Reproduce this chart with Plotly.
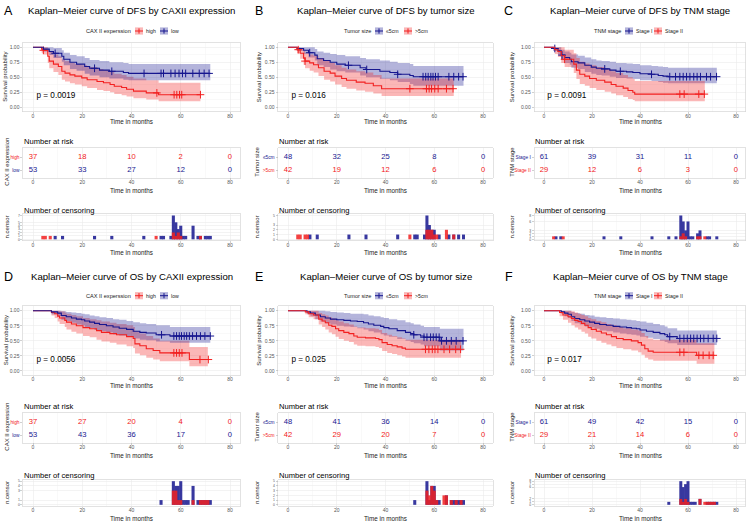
import plotly.graph_objects as go
from bisect import bisect_right

FONT = "Liberation Sans, Arial, sans-serif"
W, H = 750, 525
RED = "#F22020"
BLUE = "#16168F"
RED_F = "rgba(242,32,32,0.32)"
BLUE_F = "rgba(22,22,143,0.32)"

# ======================= DATA =======================
# ---- Panel A : DFS by CAXII expression ----
A_high_t = [0, 3.5, 4.2, 6, 6.6, 8.3, 10.3, 11.7, 13, 15, 17, 19.8, 22, 26, 28.6, 31.3, 33, 36, 38, 40.8, 46, 51, 68]
A_high_s = [1, 0.97, 0.95, 0.85, 0.77, 0.72, 0.68, 0.60, 0.57, 0.54, 0.52, 0.49, 0.46, 0.43, 0.41, 0.38, 0.35, 0.33, 0.30, 0.27, 0.24, 0.21, 0.21]
A_high_hi = [1, 1, 1, 0.96, 0.92, 0.88, 0.85, 0.80, 0.77, 0.74, 0.72, 0.70, 0.67, 0.64, 0.62, 0.59, 0.56, 0.54, 0.51, 0.48, 0.45, 0.41, 0.41]
A_high_lo = [1, 0.91, 0.88, 0.74, 0.65, 0.59, 0.54, 0.46, 0.43, 0.40, 0.38, 0.35, 0.32, 0.29, 0.27, 0.25, 0.22, 0.20, 0.18, 0.15, 0.13, 0.10, 0.10]
A_high_cens = [4.2, 50.3, 57.3, 58.4, 59.5, 60.4, 68]
A_low_t = [0, 4.2, 6.6, 8.3, 11.7, 12.5, 15, 17.7, 21, 23, 27, 31, 36.7, 38.8, 72]
A_low_s = [1, 0.97, 0.93, 0.90, 0.85, 0.80, 0.75, 0.72, 0.68, 0.65, 0.62, 0.60, 0.58, 0.565, 0.565]
A_low_hi = [1, 1, 1, 0.99, 0.95, 0.91, 0.87, 0.85, 0.82, 0.79, 0.77, 0.75, 0.74, 0.72, 0.72]
A_low_lo = [1, 0.93, 0.87, 0.82, 0.76, 0.70, 0.64, 0.61, 0.56, 0.53, 0.50, 0.48, 0.46, 0.45, 0.45]
A_low_cens = [9, 25, 32, 45.1, 52, 53, 56, 57.7, 59.3, 60.7, 62, 64.9, 67.5, 69.5, 71.5]
A_risk_high = [37, 18, 10, 2, 0]
A_risk_low = [53, 33, 27, 12, 0]
A_nc_high_t = [4, 5, 7, 50, 57, 58, 59, 60, 68]
A_nc_high_n = [1, 1, 1, 1, 2, 1, 2, 1, 1]
A_nc_low_t = [9, 12, 25, 32, 45, 52, 53, 56, 57, 58, 59, 60, 61, 62, 65, 67, 68, 70, 71, 72]
A_nc_low_n = [1, 1, 1, 1, 1, 1, 1, 1, 7, 5, 3, 4, 1, 1, 4, 1, 1, 1, 1, 1]

# ---- Panel B : DFS by tumor size ----
B_s5_t = [0, 3.7, 6.4, 8.4, 11, 12, 14.6, 17.3, 20, 23.5, 29.6, 32, 37.7, 41.8, 45, 50, 51.4, 72]
B_s5_s = [1, 0.98, 0.95, 0.91, 0.87, 0.81, 0.78, 0.75, 0.72, 0.70, 0.66, 0.63, 0.60, 0.58, 0.55, 0.53, 0.51, 0.51]
B_s5_hi = [1, 1, 1, 1, 0.97, 0.93, 0.91, 0.89, 0.87, 0.85, 0.82, 0.80, 0.78, 0.76, 0.74, 0.72, 0.69, 0.69]
B_s5_lo = [1, 0.94, 0.89, 0.83, 0.78, 0.70, 0.67, 0.63, 0.60, 0.58, 0.53, 0.50, 0.47, 0.45, 0.42, 0.39, 0.36, 0.36]
B_s5_cens = [8.9, 24.8, 32.3, 45, 55.4, 56.5, 57.5, 58.6, 59.5, 60.5, 61.6, 66, 68, 70, 71.8]
B_l5_t = [0, 3.7, 5, 6.4, 7, 8.9, 10.5, 12.5, 14.8, 17.3, 19.3, 22, 24, 28, 31.6, 35, 38.4, 68]
B_l5_s = [1, 0.96, 0.90, 0.82, 0.77, 0.74, 0.71, 0.66, 0.60, 0.57, 0.52, 0.48, 0.45, 0.42, 0.40, 0.36, 0.31, 0.31]
B_l5_hi = [1, 1, 0.99, 0.94, 0.90, 0.88, 0.86, 0.82, 0.77, 0.74, 0.70, 0.66, 0.63, 0.60, 0.58, 0.54, 0.48, 0.48]
B_l5_lo = [1, 0.90, 0.81, 0.71, 0.65, 0.61, 0.58, 0.52, 0.46, 0.43, 0.38, 0.34, 0.31, 0.28, 0.26, 0.23, 0.19, 0.19]
B_l5_cens = [4.2, 7, 50, 56.8, 57.9, 58.9, 60.2, 61.6, 65, 67.7]
B_risk_s5 = [48, 32, 25, 8, 0]
B_risk_l5 = [42, 19, 12, 6, 0]
B_nc_s5_t = [9, 12, 25, 32, 45, 52, 53, 56, 57, 58, 59, 60, 62, 66, 68, 70, 72]
B_nc_s5_n = [1, 1, 1, 1, 1, 1, 1, 1, 5, 3, 2, 2, 1, 1, 1, 1, 1]
B_nc_l5_t = [4, 5, 7, 8, 50, 57, 58, 59, 60, 61, 65, 68]
B_nc_l5_n = [1, 1, 1, 1, 1, 2, 2, 2, 1, 1, 2, 1]

# ---- Panel C : DFS by TNM stage ----
C_s1_t = [0, 3.8, 5.8, 7.2, 8.6, 10.7, 11.4, 14.2, 17, 19.7, 21.8, 24, 27.4, 30, 34.4, 37, 40, 44.8, 47.6, 49.6, 51.7, 72]
C_s1_s = [1, 0.98, 0.94, 0.87, 0.83, 0.80, 0.76, 0.74, 0.70, 0.67, 0.65, 0.64, 0.62, 0.60, 0.59, 0.58, 0.56, 0.55, 0.53, 0.52, 0.51, 0.51]
C_s1_hi = [1, 1, 1, 0.96, 0.93, 0.91, 0.88, 0.86, 0.83, 0.80, 0.78, 0.77, 0.76, 0.74, 0.73, 0.72, 0.70, 0.69, 0.68, 0.67, 0.66, 0.66]
C_s1_lo = [1, 0.94, 0.88, 0.79, 0.74, 0.71, 0.66, 0.64, 0.59, 0.56, 0.54, 0.53, 0.51, 0.49, 0.48, 0.47, 0.45, 0.44, 0.42, 0.41, 0.40, 0.40]
C_s1_cens = [4.5, 7.5, 25.3, 31.8, 44.8, 52.4, 54.8, 56.6, 58, 59.4, 60.8, 62.4, 63.8, 65.2, 67.7, 69.4, 71.9]
C_s2_t = [0, 4.5, 5.8, 7.2, 8.6, 12.4, 13.5, 14.9, 17, 19, 21.8, 25.3, 28, 30, 33, 35, 37, 37.8, 67]
C_s2_s = [1, 0.96, 0.93, 0.86, 0.80, 0.72, 0.62, 0.55, 0.52, 0.48, 0.45, 0.42, 0.38, 0.35, 0.32, 0.28, 0.25, 0.22, 0.22]
C_s2_hi = [1, 1, 1, 1, 0.96, 0.90, 0.82, 0.76, 0.73, 0.70, 0.67, 0.64, 0.60, 0.57, 0.54, 0.50, 0.47, 0.44, 0.44]
C_s2_lo = [1, 0.89, 0.84, 0.74, 0.67, 0.57, 0.47, 0.39, 0.36, 0.32, 0.29, 0.26, 0.23, 0.20, 0.17, 0.14, 0.12, 0.10, 0.10]
C_s2_cens = [8.6, 56.6, 58.4, 64.5, 66.8]
C_risk_s1 = [61, 39, 31, 11, 0]
C_risk_s2 = [29, 12, 6, 3, 0]
C_nc_s1_t = [5, 7, 25, 32, 45, 52, 55, 57, 58, 59, 60, 61, 62, 64, 65, 68, 69, 72]
C_nc_s1_n = [1, 1, 1, 1, 1, 1, 1, 8, 6, 3, 6, 1, 1, 2, 3, 1, 1, 1]
C_nc_s2_t = [4, 8, 57, 58, 59, 64, 65, 67]
C_nc_s2_n = [1, 1, 1, 2, 1, 1, 1, 1]

# ---- Panel D : OS by CAXII expression ----
D_high_t = [0, 7.5, 8.8, 10, 10.8, 12.9, 13.6, 15.6, 17.6, 20.3, 23, 25.8, 27.8, 31.2, 33.9, 38, 40.7, 41.4, 43.4, 46, 48.8, 51.5, 63.5, 71]
D_high_s = [1, 0.97, 0.95, 0.91, 0.88, 0.84, 0.81, 0.78, 0.75, 0.72, 0.70, 0.67, 0.64, 0.62, 0.60, 0.57, 0.54, 0.45, 0.42, 0.37, 0.34, 0.30, 0.19, 0.19]
D_high_hi = [1, 1, 1, 1, 0.99, 0.97, 0.95, 0.93, 0.91, 0.88, 0.86, 0.84, 0.82, 0.80, 0.78, 0.76, 0.73, 0.66, 0.62, 0.58, 0.54, 0.50, 0.40, 0.40]
D_high_lo = [1, 0.92, 0.88, 0.82, 0.78, 0.73, 0.69, 0.65, 0.62, 0.58, 0.56, 0.52, 0.49, 0.47, 0.44, 0.41, 0.38, 0.29, 0.26, 0.22, 0.19, 0.16, 0.08, 0.08]
D_high_cens = [57.2, 58.3, 59.4, 60.5, 67.8, 71.2]
D_low_t = [0, 7.5, 10, 11.5, 13.5, 15.6, 17.6, 19.7, 21, 23, 25, 27, 29.8, 32.5, 35, 38, 40.7, 43.4, 46, 50, 55.6, 72]
D_low_s = [1, 0.98, 0.96, 0.92, 0.90, 0.88, 0.86, 0.85, 0.83, 0.81, 0.79, 0.77, 0.75, 0.73, 0.71, 0.69, 0.66, 0.64, 0.63, 0.60, 0.58, 0.58]
D_low_hi = [1, 1, 1, 0.99, 0.98, 0.97, 0.96, 0.95, 0.94, 0.92, 0.91, 0.89, 0.88, 0.86, 0.85, 0.83, 0.81, 0.79, 0.78, 0.76, 0.73, 0.73]
D_low_lo = [1, 0.94, 0.91, 0.85, 0.83, 0.80, 0.77, 0.76, 0.73, 0.71, 0.68, 0.66, 0.64, 0.61, 0.59, 0.57, 0.54, 0.52, 0.51, 0.49, 0.47, 0.47]
D_low_cens = [52.2, 57.2, 58.3, 59.4, 60.3, 61.4, 62.4, 63.5, 64.8, 66.4, 68, 69.8, 72]
D_risk_high = [37, 27, 20, 4, 0]
D_risk_low = [53, 43, 36, 17, 0]
D_nc_high_t = [57, 58, 59, 60, 65, 68, 69, 70, 71]
D_nc_high_n = [3, 3, 1, 1, 1, 1, 1, 1, 1]
D_nc_low_t = [52, 57, 58, 59, 60, 61, 62, 63, 65, 67, 68, 69, 70, 71, 72]
D_nc_low_n = [1, 5, 4, 4, 5, 1, 1, 1, 4, 1, 1, 1, 1, 1, 1]

# ---- Panel E : OS by tumor size ----
E_s5_t = [0, 7.8, 9.2, 11.2, 13.3, 15.3, 17.4, 20, 22.9, 25.6, 28.4, 31, 33, 35.2, 38, 39.3, 41.4, 44.8, 48.2, 50.3, 51.6, 54.4, 55.8, 62.3, 72]
E_s5_s = [1, 0.98, 0.96, 0.93, 0.90, 0.88, 0.86, 0.85, 0.84, 0.83, 0.82, 0.80, 0.78, 0.76, 0.74, 0.72, 0.70, 0.67, 0.64, 0.62, 0.60, 0.58, 0.56, 0.50, 0.50]
E_s5_hi = [1, 1, 1, 1, 1, 0.99, 0.98, 0.97, 0.96, 0.95, 0.95, 0.94, 0.92, 0.91, 0.89, 0.88, 0.86, 0.84, 0.81, 0.79, 0.77, 0.75, 0.73, 0.70, 0.70]
E_s5_lo = [1, 0.94, 0.91, 0.86, 0.82, 0.79, 0.77, 0.75, 0.74, 0.73, 0.71, 0.69, 0.66, 0.64, 0.61, 0.59, 0.57, 0.53, 0.50, 0.48, 0.46, 0.44, 0.41, 0.34, 0.34]
E_s5_cens = [51.6, 55.8, 57, 58.5, 59.6, 60.8, 62, 63, 65, 67, 69, 71.8]
E_l5_t = [0, 7.1, 8.5, 10.5, 12.6, 14, 15.3, 16.7, 18, 19.5, 20.8, 22.9, 25, 27, 28.4, 31.8, 35.9, 37.3, 38.6, 40.7, 42.7, 44.8, 46.8, 48.2, 71]
E_l5_s = [1, 0.98, 0.95, 0.93, 0.86, 0.83, 0.80, 0.76, 0.74, 0.70, 0.67, 0.64, 0.62, 0.58, 0.56, 0.55, 0.54, 0.52, 0.47, 0.44, 0.42, 0.40, 0.38, 0.36, 0.36]
E_l5_hi = [1, 1, 1, 1, 0.96, 0.94, 0.92, 0.89, 0.87, 0.84, 0.82, 0.79, 0.77, 0.74, 0.72, 0.71, 0.70, 0.68, 0.63, 0.60, 0.58, 0.56, 0.54, 0.52, 0.52]
E_l5_lo = [1, 0.94, 0.89, 0.86, 0.77, 0.73, 0.69, 0.64, 0.61, 0.57, 0.53, 0.50, 0.48, 0.44, 0.42, 0.41, 0.40, 0.38, 0.33, 0.30, 0.28, 0.26, 0.24, 0.22, 0.22]
E_l5_cens = [56.4, 57.8, 59.2, 60.3, 61.5, 64, 66.3, 68.8, 70.8]
E_risk_s5 = [48, 41, 36, 14, 0]
E_risk_l5 = [42, 29, 20, 7, 0]
E_nc_s5_t = [52, 57, 58, 59, 60, 61, 62, 65, 67, 68, 69, 70, 71, 72]
E_nc_s5_n = [1, 5, 1, 4, 4, 1, 1, 2, 1, 1, 1, 1, 1, 1]
E_nc_l5_t = [57, 58, 59, 60, 61, 64, 65, 67, 69, 71]
E_nc_l5_n = [3, 2, 4, 3, 1, 2, 2, 1, 1, 1]

# ---- Panel F : OS by TNM stage ----
F_s1_t = [0, 7.2, 8.6, 10, 11.4, 12.8, 14.9, 17, 19, 21.1, 23.2, 26, 28.8, 31.6, 34.4, 36.4, 38.5, 40, 42.7, 45.5, 48.3, 50.3, 51.5, 55.5, 72]
F_s1_s = [1, 0.98, 0.96, 0.94, 0.90, 0.87, 0.85, 0.83, 0.81, 0.79, 0.77, 0.76, 0.74, 0.73, 0.72, 0.71, 0.70, 0.68, 0.66, 0.64, 0.62, 0.60, 0.57, 0.54, 0.54]
F_s1_hi = [1, 1, 1, 1, 0.98, 0.96, 0.95, 0.93, 0.92, 0.90, 0.89, 0.88, 0.87, 0.86, 0.85, 0.84, 0.83, 0.82, 0.80, 0.78, 0.76, 0.74, 0.71, 0.67, 0.67]
F_s1_lo = [1, 0.95, 0.91, 0.88, 0.83, 0.79, 0.77, 0.74, 0.72, 0.70, 0.67, 0.66, 0.64, 0.62, 0.61, 0.60, 0.59, 0.57, 0.55, 0.53, 0.50, 0.48, 0.46, 0.43, 0.43]
F_s1_cens = [52.4, 56.6, 58.3, 59.7, 61.1, 62.4, 63.8, 65.2, 66.6, 68.4, 70.5, 72]
F_s2_t = [0, 6.5, 7.9, 10, 11.4, 12.8, 14.2, 15.6, 17, 18.4, 19.7, 21.8, 23.9, 26, 28.1, 30.2, 33, 36.4, 39.2, 40.6, 42, 43.4, 45.5, 63.6, 71]
F_s2_s = [1, 0.97, 0.93, 0.90, 0.87, 0.84, 0.82, 0.79, 0.76, 0.72, 0.69, 0.66, 0.63, 0.60, 0.57, 0.54, 0.52, 0.50, 0.47, 0.43, 0.37, 0.33, 0.31, 0.26, 0.26]
F_s2_hi = [1, 1, 1, 1, 0.99, 0.97, 0.95, 0.93, 0.91, 0.88, 0.86, 0.83, 0.81, 0.78, 0.76, 0.73, 0.71, 0.69, 0.67, 0.63, 0.58, 0.54, 0.52, 0.46, 0.46]
F_s2_lo = [1, 0.91, 0.85, 0.80, 0.76, 0.72, 0.69, 0.65, 0.62, 0.57, 0.54, 0.50, 0.47, 0.44, 0.41, 0.38, 0.36, 0.34, 0.31, 0.27, 0.22, 0.19, 0.17, 0.12, 0.12]
F_s2_cens = [56.6, 58.3, 64.5, 66.3, 68.8, 70.5]
F_risk_s1 = [61, 49, 42, 15, 0]
F_risk_s2 = [29, 21, 14, 6, 0]
F_nc_s1_t = [52, 57, 58, 59, 60, 61, 62, 63, 65, 68, 69, 70, 71, 72]
F_nc_s1_n = [1, 8, 6, 7, 8, 1, 1, 1, 2, 1, 1, 1, 1, 1]
F_nc_s2_t = [57, 58, 59, 60, 65, 67, 68, 69, 70, 71]
F_nc_s2_n = [2, 1, 2, 1, 2, 1, 1, 1, 1, 1]

RISK_TIMES = [0, 20, 40, 60, 80]
KM_YTICKS = [0, 0.25, 0.5, 0.75, 1.0]
X_TICKS = [0, 20, 40, 60, 80]

# ======================= PANEL SPECS =======================
def grp(name, color, fill, t, s, lo, hi, cens, risk, nct, ncn):
    return dict(name=name, color=color, fill=fill, t=t, s=s, lo=lo, hi=hi,
                cens=cens, risk=risk, nct=nct, ncn=ncn)

panels = [
    dict(letter="A", title="Kaplan\u2013Meier curve of DFS by CAXII expression", legtitle="CAX II experssion",
         rtitle="CAX II expression", pval="p = 0.0019", col=0, half=0,
         groups=[grp("high", RED, RED_F, A_high_t, A_high_s, A_high_lo, A_high_hi, A_high_cens, A_risk_high, A_nc_high_t, A_nc_high_n),
                 grp("low", BLUE, BLUE_F, A_low_t, A_low_s, A_low_lo, A_low_hi, A_low_cens, A_risk_low, A_nc_low_t, A_nc_low_n)]),
    dict(letter="B", title="Kaplan\u2013Meier curve of DFS by tumor size", legtitle="Tumor size",
         rtitle="Tumor size", pval="p = 0.016", col=1, half=0,
         groups=[grp("\u22645cm", BLUE, BLUE_F, B_s5_t, B_s5_s, B_s5_lo, B_s5_hi, B_s5_cens, B_risk_s5, B_nc_s5_t, B_nc_s5_n),
                 grp(">5cm", RED, RED_F, B_l5_t, B_l5_s, B_l5_lo, B_l5_hi, B_l5_cens, B_risk_l5, B_nc_l5_t, B_nc_l5_n)]),
    dict(letter="C", title="Kaplan\u2013Meier curve of DFS by TNM stage", legtitle="TNM stage",
         rtitle="TNM stage", pval="p = 0.0091", col=2, half=0,
         groups=[grp("Stage I", BLUE, BLUE_F, C_s1_t, C_s1_s, C_s1_lo, C_s1_hi, C_s1_cens, C_risk_s1, C_nc_s1_t, C_nc_s1_n),
                 grp("Stage II", RED, RED_F, C_s2_t, C_s2_s, C_s2_lo, C_s2_hi, C_s2_cens, C_risk_s2, C_nc_s2_t, C_nc_s2_n)]),
    dict(letter="D", title="Kaplan\u2013Meier curve of OS by CAXII expression", legtitle="CAX II experssion",
         rtitle="CAX II expression", pval="p = 0.0056", col=0, half=1,
         groups=[grp("high", RED, RED_F, D_high_t, D_high_s, D_high_lo, D_high_hi, D_high_cens, D_risk_high, D_nc_high_t, D_nc_high_n),
                 grp("low", BLUE, BLUE_F, D_low_t, D_low_s, D_low_lo, D_low_hi, D_low_cens, D_risk_low, D_nc_low_t, D_nc_low_n)]),
    dict(letter="E", title="Kaplan\u2013Meier curve of OS by tumor size", legtitle="Tumor size",
         rtitle="Tumor size", pval="p = 0.025", col=1, half=1,
         groups=[grp("\u22645cm", BLUE, BLUE_F, E_s5_t, E_s5_s, E_s5_lo, E_s5_hi, E_s5_cens, E_risk_s5, E_nc_s5_t, E_nc_s5_n),
                 grp(">5cm", RED, RED_F, E_l5_t, E_l5_s, E_l5_lo, E_l5_hi, E_l5_cens, E_risk_l5, E_nc_l5_t, E_nc_l5_n)]),
    dict(letter="F", title="Kaplan\u2013Meier curve of OS by TNM stage", legtitle="TNM stage",
         rtitle="TNM stage", pval="p = 0.017", col=2, half=1,
         groups=[grp("Stage I", BLUE, BLUE_F, F_s1_t, F_s1_s, F_s1_lo, F_s1_hi, F_s1_cens, F_risk_s1, F_nc_s1_t, F_nc_s1_n),
                 grp("Stage II", RED, RED_F, F_s2_t, F_s2_s, F_s2_lo, F_s2_hi, F_s2_cens, F_risk_s2, F_nc_s2_t, F_nc_s2_n)]),
]

# ======================= GEOMETRY (pixels) =======================
COLS = [
    dict(x0=33.0, x80=230.0, letter=8.5, ytitle_km=5.5, ytitle_tab=7.0, key1=135, key2=160),
    dict(x0=288.0, x80=483.0, letter=258.5, ytitle_km=259.0, ytitle_tab=257.0, key1=375, key2=404),
    dict(x0=544.0, x80=736.0, letter=508.5, ytitle_km=512.0, ytitle_tab=512.0, key1=625, key2=654),
]
HALVES = [
    dict(title=10.0, legend=31.0, km=(47.3, 107.3), risk=(147.7, 177.7), rtitle=141.0, cens=(214.3, 240.5), ctitle=210.0),
    dict(title=276.7, legend=295.7, km=(310.7, 371.0), risk=(412.7, 442.7), rtitle=406.0, cens=(480.0, 506.0), ctitle=475.0),
]

def fx(p):
    return p / W

def fy(p):
    return 1 - p / H

fig = go.Figure()
axes_layout = {}
annotations = []
shapes = []
counter = [0]

def ann(text, x, y, size, color="black", xanchor="center", yanchor="middle", angle=0):
    annotations.append(dict(text=text, x=fx(x), y=fy(y), xref="paper", yref="paper", showarrow=False,
                            font=dict(size=size, color=color, family=FONT), xanchor=xanchor,
                            yanchor=yanchor, textangle=angle, borderpad=0))

base_axis = dict(showline=True, mirror=True, linecolor="#D6D6D6", linewidth=0.7,
                 showgrid=True, gridcolor="#EBEBEB", gridwidth=0.6, zeroline=False,
                 ticks="outside", ticklen=2, tickwidth=0.6, tickcolor="#B0B0B0",
                 tickfont=dict(size=5, color="#555555", family=FONT), fixedrange=True,
                 automargin=False)

def new_axes(xdom, ydom, xcfg, ycfg):
    counter[0] += 1
    i = counter[0]
    xs = "" if i == 1 else str(i)
    xa = dict(base_axis)
    xa.update(domain=[fx(xdom[0]), fx(xdom[1])], anchor="y" + xs)
    xa.update(xcfg)
    ya = dict(base_axis)
    ya.update(domain=[fy(ydom[1]), fy(ydom[0])], anchor="x" + xs)
    ya.update(ycfg)
    axes_layout["xaxis" + xs] = xa
    axes_layout["yaxis" + xs] = ya
    return "x" + xs, "y" + xs

x_cfg = dict(range=[-4, 84], tickmode="array", tickvals=X_TICKS, ticklen=1.5, ticklabelstandoff=-2,
             minor=dict(tickmode="array", tickvals=[10, 30, 50, 70], showgrid=True,
                        gridcolor="#F4F4F4", gridwidth=0.5, ticks=""))

def step_at(t, s, c):
    i = bisect_right(t, c) - 1
    return s[max(i, 0)]

for p in panels:
    col = COLS[p["col"]]
    hf = HALVES[p["half"]]
    k = (col["x80"] - col["x0"]) / 80.0
    xl, xr = col["x0"] - 4 * k, col["x0"] + 84 * k
    xc = (xl + xr) / 2
    xmid = (col["x0"] + col["x80"]) / 2

    # ---- headings ----
    ann(p["letter"], col["letter"], hf["title"] + 0.5, 12.5)
    ann(p["title"], xc, hf["title"], 9.6)

    # ---- legend (drawn keys) ----
    ly = hf["legend"]
    ann(p["legtitle"], col["key1"] - 3, ly, 5.6, color="#222222", xanchor="right")
    for g, kx in zip(p["groups"], [col["key1"], col["key2"]]):
        shapes.append(dict(type="rect", xref="paper", yref="paper", x0=fx(kx), x1=fx(kx + 8),
                           y0=fy(ly + 3.6), y1=fy(ly - 3.6), fillcolor=g["fill"], line=dict(width=0)))
        shapes.append(dict(type="line", xref="paper", yref="paper", x0=fx(kx), x1=fx(kx + 8),
                           y0=fy(ly), y1=fy(ly), line=dict(color=g["color"], width=1)))
        shapes.append(dict(type="line", xref="paper", yref="paper", x0=fx(kx + 4), x1=fx(kx + 4),
                           y0=fy(ly + 2.6), y1=fy(ly - 2.6), line=dict(color=g["color"], width=1)))
        ann(g["name"], kx + 10, ly, 5.2, color="#222222", xanchor="left")

    # ---- KM plot ----
    y1p, y0p = hf["km"]
    u = y0p - y1p
    xa, ya = new_axes((xl, xr), (y1p - 0.08 * u, y0p + 0.07 * u), x_cfg,
                      dict(range=[-0.07, 1.08], tickmode="array", tickvals=KM_YTICKS,
                           ticktext=["0.00", "0.25", "0.50", "0.75", "1.00"],
                           minor=dict(tickmode="array", tickvals=[0.125, 0.375, 0.625, 0.875],
                                      showgrid=True, gridcolor="#F4F4F4", gridwidth=0.5, ticks="")))
    for g in p["groups"]:
        fig.add_trace(go.Scatter(x=g["t"], y=g["lo"], xaxis=xa, yaxis=ya, mode="lines",
                                 line=dict(width=0, shape="hv"), showlegend=False, hoverinfo="skip"))
        fig.add_trace(go.Scatter(x=g["t"], y=g["hi"], xaxis=xa, yaxis=ya, mode="lines",
                                 line=dict(width=0, shape="hv"), fill="tonexty", fillcolor=g["fill"],
                                 showlegend=False, hoverinfo="skip"))
    for g in p["groups"]:
        fig.add_trace(go.Scatter(x=g["t"], y=g["s"], xaxis=xa, yaxis=ya, mode="lines",
                                 line=dict(color=g["color"], width=1.1, shape="hv"), showlegend=False))
        cy = [step_at(g["t"], g["s"], c) for c in g["cens"]]
        fig.add_trace(go.Scatter(x=g["cens"], y=cy, xaxis=xa, yaxis=ya, mode="markers",
                                 marker=dict(symbol="cross-thin", size=5.5, line=dict(color=g["color"], width=1)),
                                 showlegend=False))
    fig.add_trace(go.Scatter(x=[1.4], y=[0.19], xaxis=xa, yaxis=ya, mode="text", text=[p["pval"]],
                             textposition="middle right", textfont=dict(size=8.2, color="black", family=FONT),
                             showlegend=False, hoverinfo="skip"))
    ann("Time in months", xmid, y0p + 0.07 * u + 10.3, 6.3, color="#222222")
    ann("Survival probability", col["ytitle_km"], (y1p + y0p) / 2, 6.0, color="#222222", angle=-90)

    # ---- risk table ----
    r0, r1 = hf["risk"]
    ticktext = ['<span style="color:%s">%s</span>' % (g["color"], g["name"]) for g in p["groups"]]
    xa, ya = new_axes((xl, xr), (r0, r1), x_cfg,
                      dict(range=[-0.6, 1.75], tickmode="array", tickvals=[1, 0], ticktext=ticktext,
                           showgrid=False, tickfont=dict(size=4.8, family=FONT)))
    for g, row in zip(p["groups"], [1, 0]):
        fig.add_trace(go.Scatter(x=RISK_TIMES, y=[row] * 5, xaxis=xa, yaxis=ya, mode="text",
                                 text=[str(v) for v in g["risk"]],
                                 textfont=dict(size=7.6, color=g["color"], family=FONT),
                                 showlegend=False, hoverinfo="skip"))
    ann("Number at risk", xl, hf["rtitle"], 7.6, xanchor="left")
    ann("Time in months", xmid, r1 + 12.5, 6.3, color="#222222")
    ann(p["rtitle"], col["ytitle_tab"], (r0 + r1) / 2 - 1, 6.0, color="#222222", angle=-90)

    # ---- censoring plot ----
    c0, c1 = hf["cens"]
    allc = sorted(set([0] + p["groups"][0]["ncn"] + p["groups"][1]["ncn"]))
    nmax = max(allc)
    xa, ya = new_axes((xl, xr), (c0, c1), x_cfg,
                      dict(range=[-0.05 * nmax, 1.05 * nmax], tickmode="array", tickvals=allc,
                           ticktext=[str(v) for v in allc], tickfont=dict(size=3.4, color="#555555", family=FONT)))
    order = sorted(p["groups"], key=lambda g: 0 if g["color"] == BLUE else 1)
    for g in order:
        fig.add_trace(go.Bar(x=g["nct"], y=g["ncn"], xaxis=xa, yaxis=ya, width=1.25,
                             marker=dict(color=g["color"], line=dict(width=0)),
                             opacity=0.85, showlegend=False))
    ann("Number of censoring", xl, hf["ctitle"], 7.6, xanchor="left")
    ann("Time in months", xmid, c1 + 12.4, 6.3, color="#222222")
    ann("n.censor", col["ytitle_tab"], (c0 + c1) / 2, 6.0, color="#222222", angle=-90)

fig.update_layout(**axes_layout)
fig.update_layout(width=W, height=H, autosize=False,
                  margin=dict(l=0, r=0, t=0, b=0, pad=0, autoexpand=False),
                  paper_bgcolor="white", plot_bgcolor="white", barmode="overlay",
                  showlegend=False, annotations=annotations, shapes=shapes,
                  font=dict(family=FONT))
fig.write_html("out.html", config={"displayModeBar": False, "staticPlot": True},
               post_script="document.body.style.margin='0';document.body.style.padding='0';document.body.style.overflow='hidden';")
